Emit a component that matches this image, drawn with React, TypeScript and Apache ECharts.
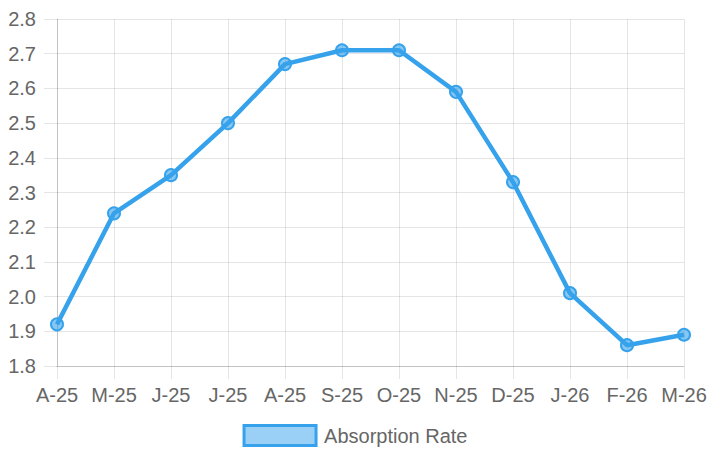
import React, { useEffect, useRef } from "react";
import * as echarts from "echarts";

const categories = ["A-25", "M-25", "J-25", "J-25", "A-25", "S-25", "O-25", "N-25", "D-25", "J-26", "F-26", "M-26"];
const absorptionRate = [1.92, 2.24, 2.35, 2.5, 2.67, 2.71, 2.71, 2.59, 2.33, 2.01, 1.86, 1.89];
const seriesName = "Absorption Rate";

export default function App() {
  const ref = useRef<HTMLDivElement>(null);
  useEffect(() => {
    if (!ref.current) return;
    const chart = echarts.init(ref.current, null, { renderer: "svg" });
    const font = "'Liberation Sans', Arial, Helvetica, sans-serif";
    const gridColor = "rgba(0,0,0,0.1)";
    chart.setOption({
      animation: false,
      textStyle: { fontFamily: font },
      grid: { left: 57, right: 26, top: 19, bottom: 89, containLabel: false },
      legend: {
        show: true,
        bottom: 3,
        left: "center",
        itemWidth: 72,
        itemHeight: 20,
        itemGap: 10,
        textStyle: { color: "#666", fontSize: 20, fontFamily: font, padding: [0, 0, 0, 3] },
        data: [
          {
            name: seriesName,
            icon: "rect",
            itemStyle: { color: "rgba(54,162,235,0.5)", borderColor: "#36A2EB", borderWidth: 3 },
          },
        ],
      },
      xAxis: {
        type: "category",
        data: categories,
        boundaryGap: false,
        axisLine: { show: true, lineStyle: { color: "rgba(0,0,0,0.15)", width: 1 } },
        axisTick: { show: true, length: 13, interval: 0, lineStyle: { color: gridColor } },
        axisLabel: { color: "#666", fontSize: 20, margin: 19, interval: 0, fontFamily: font },
        splitLine: { show: true, interval: 0, lineStyle: { color: gridColor } },
      },
      yAxis: {
        type: "value",
        min: 1.8,
        max: 2.8,
        interval: 0.1,
        axisLine: { show: true, lineStyle: { color: "rgba(0,0,0,0.15)", width: 1 } },
        axisTick: { show: true, length: 13, lineStyle: { color: gridColor } },
        axisLabel: {
          color: "#666",
          fontSize: 20,
          margin: 21,
          fontFamily: font,
          formatter: (v: number) => v.toFixed(1),
        },
        splitLine: { show: true, lineStyle: { color: gridColor } },
      },
      series: [
        {
          name: seriesName,
          type: "line",
          data: absorptionRate,
          smooth: false,
          symbol: "circle",
          symbolSize: 12,
          lineStyle: { color: "#36A2EB", width: 4.5 },
          itemStyle: { color: "rgba(54,162,235,0.6)", borderColor: "#36A2EB", borderWidth: 2 },
        },
      ],
    });
    return () => chart.dispose();
  }, []);
  return <div ref={ref} style={{ position: "absolute", left: 0, top: 0, width: 710, height: 455 }} />;
}
